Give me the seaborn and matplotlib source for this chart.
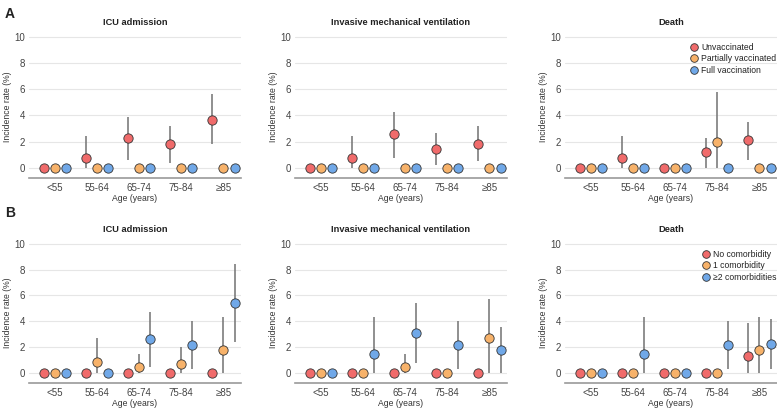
import numpy as np
import pandas as pd
import matplotlib
matplotlib.use("Agg")
import matplotlib.pyplot as plt
from matplotlib.lines import Line2D
import seaborn as sns

# ---- data (incidence rate %, with 95% CI) ----
AGES = ["<55", "55-64", "65-74", "75-84", "≥85"]
OUTCOMES = ["ICU admission", "Invasive mechanical ventilation", "Death"]
VACC_GROUPS = ["Unvaccinated", "Partially vaccinated", "Full vaccination"]
COMOR_GROUPS = ["No comorbidity", "1 comorbidity", "≥2 comorbidities"]
COLORS = ["#f06b6b", "#f7b26a", "#70a8e8"]

# Panel A: by vaccination status  (rows = groups, cols = age bands)
a_icu_rate = [[0, 0.8, 2.25, 1.8, 3.65], [0, 0, 0, 0, 0], [0, 0, 0, 0, 0]]
a_icu_lo = [[0, 0.0, 0.6, 0.4, 1.8], [0, 0, 0, 0, 0], [0, 0, 0, 0, 0]]
a_icu_hi = [[0, 2.4, 3.9, 3.2, 5.6], [0, 0, 0, 0, 0], [0, 0, 0, 0, 0]]

a_imv_rate = [[0, 0.8, 2.6, 1.45, 1.8], [0, 0, 0, 0, 0], [0, 0, 0, 0, 0]]
a_imv_lo = [[0, 0.0, 0.8, 0.2, 0.5], [0, 0, 0, 0, 0], [0, 0, 0, 0, 0]]
a_imv_hi = [[0, 2.4, 4.3, 2.7, 3.2], [0, 0, 0, 0, 0], [0, 0, 0, 0, 0]]

a_death_rate = [[0, 0.8, 0, 1.2, 2.1], [0, 0, 0, 1.95, 0], [0, 0, 0, 0, 0]]
a_death_lo = [[0, 0.0, 0, 0.0, 0.6], [0, 0, 0, 0.0, 0], [0, 0, 0, 0, 0]]
a_death_hi = [[0, 2.4, 0, 2.3, 3.5], [0, 0, 0, 5.8, 0], [0, 0, 0, 0, 0]]

# Panel B: by number of comorbidities
b_icu_rate = [[0, 0, 0, 0, 0], [0, 0.9, 0.5, 0.7, 1.8], [0, 0, 2.65, 2.15, 5.4]]
b_icu_lo = [[0, 0, 0, 0, 0], [0, 0.0, 0.0, 0.0, 0.0], [0, 0, 0.5, 0.3, 2.4]]
b_icu_hi = [[0, 0, 0, 0, 0], [0, 2.7, 1.5, 2.0, 4.3], [0, 0, 4.7, 4.0, 8.4]]

b_imv_rate = [[0, 0, 0, 0, 0], [0, 0, 0.5, 0, 2.7], [0, 1.45, 3.1, 2.15, 1.8]]
b_imv_lo = [[0, 0, 0, 0, 0], [0, 0, 0.0, 0, 0.0], [0, 0.0, 0.8, 0.3, 0.0]]
b_imv_hi = [[0, 0, 0, 0, 0], [0, 0, 1.5, 0, 5.7], [0, 4.3, 5.4, 4.0, 3.6]]

b_death_rate = [[0, 0, 0, 0, 1.3], [0, 0, 0, 0, 1.8], [0, 1.45, 0, 2.15, 2.25]]
b_death_lo = [[0, 0, 0, 0, 0.0], [0, 0, 0, 0, 0.0], [0, 0.0, 0, 0.3, 0.3]]
b_death_hi = [[0, 0, 0, 0, 3.9], [0, 0, 0, 0, 4.3], [0, 4.3, 0, 4.0, 4.2]]

PANELS = [
    ("A", VACC_GROUPS, [(a_icu_rate, a_icu_lo, a_icu_hi),
                        (a_imv_rate, a_imv_lo, a_imv_hi),
                        (a_death_rate, a_death_lo, a_death_hi)]),
    ("B", COMOR_GROUPS, [(b_icu_rate, b_icu_lo, b_icu_hi),
                         (b_imv_rate, b_imv_lo, b_imv_hi),
                         (b_death_rate, b_death_lo, b_death_hi)]),
]

sns.set_theme(style="white")
plt.rcParams["font.family"] = ["Liberation Sans", "DejaVu Sans"]
plt.rcParams["text.color"] = "#222222"
plt.rcParams["axes.labelcolor"] = "#333333"

fig = plt.figure(figsize=(7.77, 4.12), dpi=100)
lefts = [29 / 777, 295 / 777, 565 / 777]
width = 212 / 777
row_box = [(1 - 178 / 412, 142 / 412), (1 - 383 / 412, 140 / 412)]

for r, (letter, groups, outcomes) in enumerate(PANELS):
    bottom, height = row_box[r]
    for c, (rate, lo, hi) in enumerate(outcomes):
        ax = fig.add_axes([lefts[c], bottom, width, height])
        df = pd.DataFrame([
            {"age": AGES[i], "group": groups[g], "rate": rate[g][i],
             "lo": lo[g][i], "hi": hi[g][i]}
            for g in range(3) for i in range(len(AGES))
        ])

        # error bars, placed at the same dodge offsets stripplot uses
        step = 0.8 / len(groups)
        for _, row in df.iterrows():
            if row["hi"] > row["lo"]:
                g = groups.index(row["group"])
                xpos = AGES.index(row["age"]) + (g - 1) * step
                ax.vlines(xpos, row["lo"], row["hi"], color="#727272",
                          lw=1.1, zorder=2)

        sns.stripplot(data=df, x="age", y="rate", hue="group", order=AGES,
                      hue_order=groups, palette=COLORS, dodge=True,
                      jitter=False, size=6.7, linewidth=0.6,
                      edgecolor="#333333", legend=False, zorder=3, ax=ax)

        ax.set_xlim(-0.62, 4.42)
        ax.set_ylim(-0.76, 10.05)
        ax.set_yticks(range(0, 11, 2))
        ax.yaxis.grid(True, color="#e6e6e6", lw=0.8)
        ax.set_axisbelow(True)
        for s in ["top", "right", "left"]:
            ax.spines[s].set_visible(False)
        ax.spines["bottom"].set_color("#9a9a9a")
        ax.spines["bottom"].set_linewidth(1.2)
        ax.tick_params(axis="both", labelsize=7, length=2.5, width=0.6,
                       pad=1, labelcolor="#444444")
        ax.tick_params(axis="y", color="#888888", pad=0.5)
        ax.tick_params(axis="x", color="#9a9a9a")
        ax.set_xlabel("Age (years)", fontsize=6.2, labelpad=1)
        ax.set_ylabel("Incidence rate (%)", fontsize=6.2)
        ax.yaxis.set_label_coords(-0.08, 0.5)
        ax.set_title(OUTCOMES[c], fontsize=6.7, fontweight="bold", pad=8)

        if c == 2:
            handles = [Line2D([], [], marker="o", ls="", markersize=5.5,
                              markerfacecolor=COLORS[k],
                              markeredgecolor="#333333", markeredgewidth=0.6)
                       for k in range(3)]
            ax.legend(handles, groups, loc="upper right",
                      bbox_to_anchor=(1.02, 0.99), frameon=False,
                      fontsize=6.2, handletextpad=0.3, labelspacing=0.3,
                      borderaxespad=0.2, handlelength=0.9)

    fig.text(0.006, (1 - 14 / 412) if r == 0 else (1 - 213 / 412), letter,
             fontsize=10, fontweight="bold", va="center")

fig.savefig("out.png", dpi=100)
